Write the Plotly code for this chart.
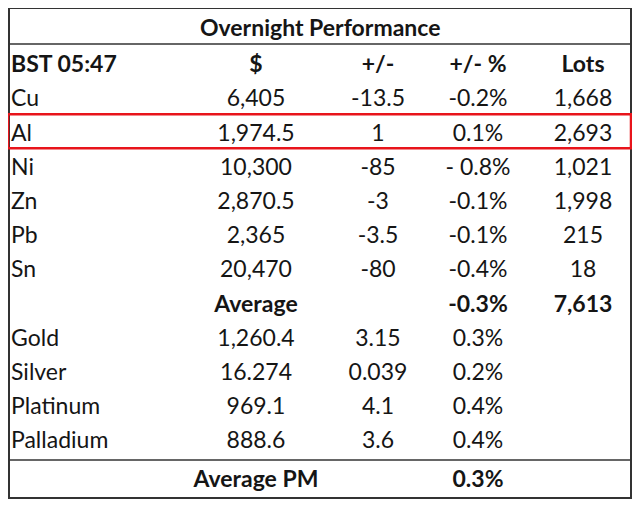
"""
Overnight Performance table, redrawn as a Plotly figure.
"""

import plotly.graph_objects as go

# Table content
title = "Overnight Performance"
headers = ["BST 05:47", "$", "+/-", "+/- %", "Lots"]

metals = ["Cu", "Al", "Ni", "Zn", "Pb", "Sn"]
metal_price = ["6,405", "1,974.5", "10,300", "2,870.5", "2,365", "20,470"]
metal_change = ["-13.5", "1", "-85", "-3", "-3.5", "-80"]
metal_pct = ["-0.2%", "0.1%", "- 0.8%", "-0.1%", "-0.1%", "-0.4%"]
metal_lots = ["1,668", "2,693", "1,021", "1,998", "215", "18"]

base_avg_label = "Average"
base_avg_pct = "-0.3%"
base_total_lots = "7,613"

precious = ["Gold", "Silver", "Platinum", "Palladium"]
precious_price = ["1,260.4", "16.274", "969.1", "888.6"]
precious_change = ["3.15", "0.039", "4.1", "3.6"]
precious_pct = ["0.3%", "0.2%", "0.4%", "0.4%"]

pm_avg_label = "Average PM"
pm_avg_pct = "0.3%"

highlight = "Al"

# Layout constants (pixels of the final picture; the page body adds an 8px offset)
PAGE_OFFSET = 8
W, H = 640, 508
LEFT, RIGHT, TOP, BOTTOM = 9, 631, 8, 498
TITLE_LINE, PM_LINE = 44, 460
ROW0, PITCH = 66.5, 34.2
COL_X = [11, 256, 378, 478, 583]
FONT = "Lato, sans-serif"
SIZE = 23
INK = "#151515"


def b(s):
    return f"<b>{s}</b>" if s else ""


# Assemble rows: list of 5 cells each
rows = [[b(h) for h in headers]]
for r in zip(metals, metal_price, metal_change, metal_pct, metal_lots):
    rows.append(list(r))
rows.append(["", b(base_avg_label), "", b(base_avg_pct), b(base_total_lots)])
for r in zip(precious, precious_price, precious_change, precious_pct):
    rows.append(list(r) + [""])

row_y = [ROW0 + PITCH * i for i in range(len(rows))]
pm_y = 481
pm_row = ["", b(pm_avg_label), "", b(pm_avg_pct), ""]

fig = go.Figure()

for c in range(5):
    fig.add_trace(
        go.Scatter(
            x=[COL_X[c]] * (len(rows) + 1),
            y=row_y + [pm_y],
            text=[r[c] for r in rows] + [pm_row[c]],
            mode="text",
            textposition="middle right" if c == 0 else "middle center",
            textfont={"family": FONT, "size": SIZE, "color": INK},
            hoverinfo="skip",
            showlegend=False,
        )
    )

# Title
fig.add_annotation(
    x=320, y=27, text=b(title), showarrow=False,
    font={"family": FONT, "size": SIZE, "color": INK},
)

# Borders
fig.add_shape(type="rect", x0=LEFT, y0=TOP, x1=RIGHT, y1=BOTTOM,
              line={"color": "#333333", "width": 2})
fig.add_shape(type="line", x0=LEFT, y0=TITLE_LINE, x1=RIGHT, y1=TITLE_LINE,
              line={"color": "#333333", "width": 1.5})
fig.add_shape(type="line", x0=LEFT, y0=PM_LINE, x1=RIGHT, y1=PM_LINE,
              line={"color": "#333333", "width": 1.5})

# Highlight box around the Al row
hi = row_y[1 + metals.index(highlight)]
fig.add_shape(type="rect", x0=8, y0=hi - 20.7, x1=631, y1=hi + 13.3,
              line={"color": "#e8141b", "width": 2.5})

fig.update_layout(
    width=W - 2 * PAGE_OFFSET, height=H - 2 * PAGE_OFFSET,
    margin={"l": 0, "r": 0, "t": 0, "b": 0},
    paper_bgcolor="white", plot_bgcolor="white",
    xaxis={"range": [PAGE_OFFSET, W - PAGE_OFFSET], "visible": False,
           "fixedrange": True},
    yaxis={"range": [H - PAGE_OFFSET, PAGE_OFFSET], "visible": False,
           "fixedrange": True},
)

fig.write_html("out.html")
